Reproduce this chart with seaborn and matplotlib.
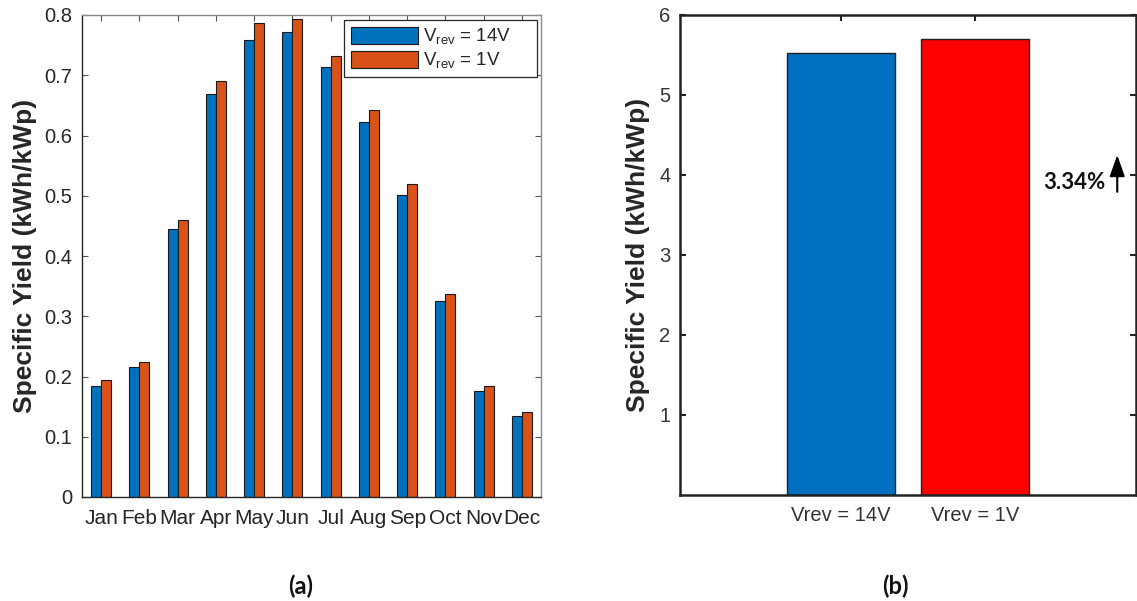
import matplotlib
matplotlib.use("Agg")
import matplotlib.pyplot as plt
import seaborn as sns
import pandas as pd

# Monthly specific yield for two reverse-bias voltages
months = ["Jan", "Feb", "Mar", "Apr", "May", "Jun", "Jul", "Aug", "Sep", "Oct", "Nov", "Dec"]
yield_14v = [0.184, 0.215, 0.444, 0.669, 0.759, 0.772, 0.714, 0.623, 0.501, 0.325, 0.176, 0.135]
yield_1v = [0.194, 0.224, 0.459, 0.691, 0.786, 0.794, 0.732, 0.643, 0.519, 0.337, 0.184, 0.141]
series_labels = [r"V$_\mathregular{rev}$ = 14V", r"V$_\mathregular{rev}$ = 1V"]

# Annual totals
total_labels = ["Vrev = 14V", "Vrev = 1V"]
total_values = [5.52, 5.70]
gain_text = "3.34%"

sns.set_style("ticks")
plt.rcParams["font.family"] = ["Liberation Sans", "DejaVu Sans"]
plt.rcParams["mathtext.fontset"] = "custom"
plt.rcParams["mathtext.rm"] = "Liberation Sans"

BLUE = "#0072BD"
ORANGE = "#D95319"
BLUE_B = "#0070C0"
RED = "#FF0000"
TICK_COLOR = "#262626"

fig = plt.figure(figsize=(11.37, 6.01), dpi=100)
W, H = 1137, 601

def px_axes(l, t, r, b):
    return fig.add_axes([l / W, 1 - b / H, (r - l) / W, (b - t) / H])

# ---- (a) monthly grouped bars ----
ax1 = px_axes(82, 15, 541, 497)
df = pd.DataFrame({
    "month": months * 2,
    "value": yield_14v + yield_1v,
    "series": [series_labels[0]] * 12 + [series_labels[1]] * 12,
})
sns.barplot(data=df, x="month", y="value", hue="series", order=months,
            hue_order=series_labels, palette=[BLUE, ORANGE], width=0.52,
            saturation=1, edgecolor="#1a1a1a", linewidth=0.8, ax=ax1,
            errorbar=None)
ax1.set_xlim(-0.5, 11.5)
ax1.set_ylim(0, 0.8)
ax1.set_yticks([0, 0.1, 0.2, 0.3, 0.4, 0.5, 0.6, 0.7, 0.8])
ax1.set_yticklabels(["0", "0.1", "0.2", "0.3", "0.4", "0.5", "0.6", "0.7", "0.8"])
ax1.set_xlabel("")
ax1.set_ylabel("Specific Yield (kWh/kWp)", fontsize=19, fontweight="bold",
               color=TICK_COLOR, va="center")
ax1.yaxis.set_label_coords((25 - 82) / 459, 0.5)
ax1.tick_params(direction="in", top=True, right=True, length=4, width=0.8,
                colors="#555555", labelcolor=TICK_COLOR, labelsize=14.5)
ax1.tick_params(axis="x", labelsize=15, pad=9)
ax1.tick_params(axis="y", pad=7)
for name, s in ax1.spines.items():
    s.set_visible(True)
    s.set_linewidth(1.0)
    s.set_color("#262626" if name in ("left", "bottom") else "#8a8a8a")
handles, labels = ax1.get_legend_handles_labels()
leg = ax1.legend(handles, labels, loc="upper left",
                 bbox_to_anchor=((344 - 82) / 459, (497 - 20) / 482,
                                 (537 - 344) / 459, 0.0),
                 mode="expand", fontsize=13.5, frameon=True, fancybox=False,
                 framealpha=1, edgecolor="#262626", handlelength=3.6,
                 handleheight=1.0, handletextpad=0.25, borderpad=0.35,
                 labelspacing=0.2, borderaxespad=0.0)
leg.get_frame().set_linewidth(0.9)

# ---- (b) annual totals ----
ax2 = px_axes(680, 15, 1136, 495)
sns.barplot(x=total_labels, y=total_values, hue=total_labels, order=total_labels,
            palette=[BLUE_B, RED], width=0.8, saturation=1, edgecolor="#222222",
            linewidth=1.0, legend=False, ax=ax2)
ax2.set_xlim(-1.2, 2.2)
ax2.set_ylim(0, 6)
ax2.set_yticks([1, 2, 3, 4, 5, 6])
ax2.set_ylabel("Specific Yield (kWh/kWp)", fontsize=19, fontweight="bold",
               color=TICK_COLOR, va="center")
ax2.yaxis.set_label_coords((638 - 680) / 456, 0.5)
ax2.tick_params(direction="in", top=True, right=True, length=4, width=1.5,
                colors="#222222", labelcolor="#333333", labelsize=14.5)
ax2.tick_params(axis="y", pad=7)
ax2.tick_params(axis="x", pad=8)
for s in ax2.spines.values():
    s.set_color("#222222")
    s.set_linewidth(1.8)
    s.set_visible(True)
ax2.annotate("", xy=(2.06, 4.25), xytext=(2.06, 3.79),
             arrowprops=dict(arrowstyle="-|>,head_length=0.65,head_width=0.23",
                             color="black", lw=1.5, mutation_scale=20,
                             shrinkA=0, shrinkB=0))
ax2.text(1.97, 3.91, gain_text, ha="right", va="center", fontsize=16,
         fontweight="bold", family=["Lato", "DejaVu Sans"], color="#111111")

# Panel captions
fig.text(301 / W, 1 - 586 / H, "(a)", ha="center", va="center", fontsize=17,
         fontweight="bold", family=["Lato", "DejaVu Sans"], color="#111111")
fig.text(895 / W, 1 - 586 / H, "(b)", ha="center", va="center", fontsize=17,
         fontweight="bold", family=["Lato", "DejaVu Sans"], color="#111111")

fig.savefig("out.png", dpi=100)
